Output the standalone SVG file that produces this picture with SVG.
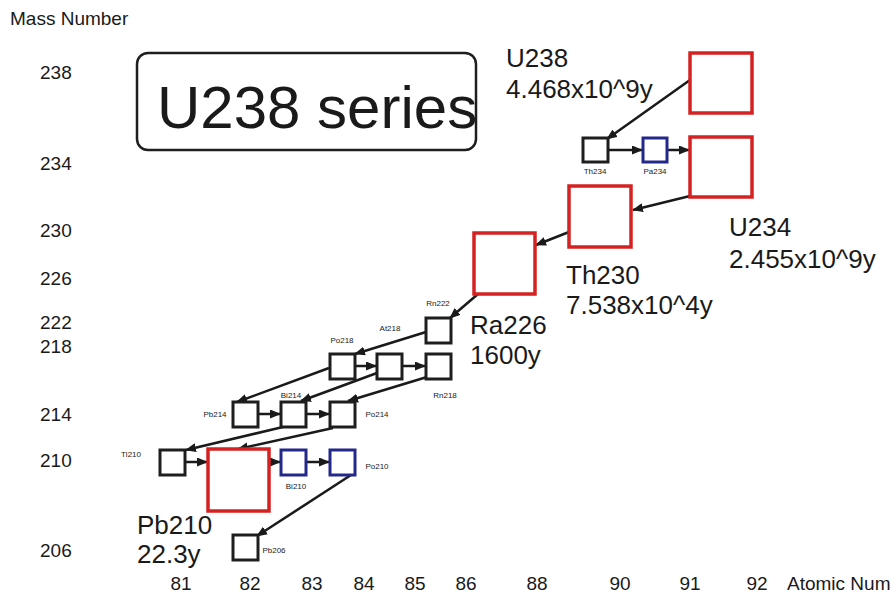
<svg xmlns="http://www.w3.org/2000/svg" width="896" height="597" viewBox="0 0 896 597">
<defs>
<marker id="ah" markerUnits="userSpaceOnUse" markerWidth="11" markerHeight="9" refX="10" refY="4.5" orient="auto">
<path d="M0,0 L11,4.5 L0,9 z" fill="#1a1a1a"/>
</marker>
</defs>
<style>
text{font-family:"Liberation Sans",Arial,sans-serif;fill:#1a1a1a}
.ax{font-size:19px}
.big{font-size:26px}
.sm{font-size:8px}
.red{fill:#fff;stroke:#d42222;stroke-width:3.5}
.blk{fill:#fff;stroke:#1e1e1e;stroke-width:3}
.blu{fill:#fff;stroke:#23298a;stroke-width:3}
.c line{stroke:#1a1a1a;stroke-width:2.5;marker-end:url(#ah)}
</style>
<rect width="896" height="597" fill="#fff"/>
<g id="axes">
<text class="ax" x="10" y="25" font-size="20">Mass Number</text>
<text class="ax" x="40" y="79">238</text>
<text class="ax" x="40" y="170">234</text>
<text class="ax" x="40" y="237">230</text>
<text class="ax" x="40" y="285">226</text>
<text class="ax" x="40" y="329">222</text>
<text class="ax" x="40" y="353">218</text>
<text class="ax" x="40" y="421">214</text>
<text class="ax" x="40" y="467">210</text>
<text class="ax" x="40" y="557">206</text>
<g text-anchor="middle">
<text class="ax" x="181" y="590">81</text>
<text class="ax" x="250" y="590">82</text>
<text class="ax" x="312" y="590">83</text>
<text class="ax" x="364" y="590">84</text>
<text class="ax" x="415" y="590">85</text>
<text class="ax" x="466" y="590">86</text>
<text class="ax" x="537" y="590">88</text>
<text class="ax" x="620" y="590">90</text>
<text class="ax" x="690" y="590">91</text>
<text class="ax" x="757" y="590">92</text>
</g>
<text class="ax" x="787" y="590">Atomic Num</text>
</g>
<g id="title">
<rect x="137" y="53" width="339" height="97" rx="11" fill="none" stroke="#1e1e1e" stroke-width="2.5"/>
<text x="157" y="128" font-size="60">U238 series</text>
</g>
<g class="c" id="connectors">
<line x1="690" y1="80" x2="607" y2="139"/>
<line x1="608" y1="150" x2="642" y2="150"/>
<line x1="667" y1="150" x2="689" y2="150"/>
<line x1="690" y1="196" x2="633" y2="210"/>
<line x1="569" y1="232" x2="536" y2="245"/>
<line x1="478" y1="294" x2="450" y2="318"/>
<line x1="426" y1="332" x2="355" y2="354"/>
<line x1="355" y1="366" x2="376" y2="366"/>
<line x1="402" y1="366" x2="425" y2="366"/>
<line x1="329" y1="368" x2="237" y2="402"/>
<line x1="377" y1="373" x2="301" y2="401"/>
<line x1="427" y1="377" x2="348" y2="401"/>
<line x1="258" y1="414" x2="280" y2="414"/>
<line x1="306" y1="414" x2="329" y2="414"/>
<line x1="283" y1="427" x2="186" y2="450"/>
<line x1="333" y1="428" x2="238" y2="449"/>
<line x1="185" y1="462" x2="207" y2="462"/>
<line x1="269" y1="462" x2="280" y2="462"/>
<line x1="306" y1="462" x2="329" y2="462"/>
<line x1="351" y1="475" x2="257" y2="536"/>
</g>
<g id="U238"><rect class="red" x="690" y="53" width="62" height="60"/>
<text class="big" x="506" y="67">U238</text><text class="big" x="506" y="98">4.468x10^9y</text></g>
<g id="Th234"><rect class="blk" x="583" y="138" width="25" height="24"/><text class="sm" x="595" y="174" text-anchor="middle">Th234</text></g>
<g id="Pa234"><rect class="blu" x="643" y="138" width="24" height="24"/><text class="sm" x="655" y="174" text-anchor="middle">Pa234</text></g>
<g id="U234"><rect class="red" x="690" y="137" width="62" height="60"/>
<text class="big" x="729" y="236">U234</text><text class="big" x="729" y="268">2.455x10^9y</text></g>
<g id="Th230"><rect class="red" x="569" y="186" width="62" height="61"/>
<text class="big" x="566" y="284">Th230</text><text class="big" x="566" y="314">7.538x10^4y</text></g>
<g id="Ra226"><rect class="red" x="474" y="233" width="61" height="61"/>
<text class="big" x="470" y="334">Ra226</text><text class="big" x="470" y="364">1600y</text></g>
<g id="Rn222"><rect class="blk" x="426" y="318" width="25" height="25"/><text class="sm" x="438" y="306" text-anchor="middle">Rn222</text></g>
<g id="Po218"><rect class="blk" x="330" y="354" width="25" height="25"/><text class="sm" x="342" y="343" text-anchor="middle">Po218</text></g>
<g id="At218"><rect class="blk" x="377" y="354" width="25" height="25"/><text class="sm" x="390" y="331" text-anchor="middle">At218</text></g>
<g id="Rn218"><rect class="blk" x="426" y="354" width="25" height="25"/><text class="sm" x="445" y="398" text-anchor="middle">Rn218</text></g>
<g id="Pb214"><rect class="blk" x="233" y="402" width="25" height="25"/><text class="sm" x="215" y="417" text-anchor="middle">Pb214</text></g>
<g id="Bi214"><rect class="blk" x="281" y="402" width="25" height="25"/><text class="sm" x="291" y="398" text-anchor="middle">Bi214</text></g>
<g id="Po214"><rect class="blk" x="330" y="402" width="25" height="25"/><text class="sm" x="377" y="417" text-anchor="middle">Po214</text></g>
<g id="Tl210"><rect class="blk" x="160" y="450" width="25" height="25"/><text class="sm" x="131" y="457" text-anchor="middle">Tl210</text></g>
<g id="Pb210"><rect class="red" x="208" y="449" width="61" height="62"/>
<text class="big" x="137" y="534">Pb210</text><text class="big" x="137" y="563">22.3y</text></g>
<g id="Bi210"><rect class="blu" x="281" y="450" width="25" height="25"/><text class="sm" x="296" y="489" text-anchor="middle">Bi210</text></g>
<g id="Po210"><rect class="blu" x="330" y="450" width="25" height="25"/><text class="sm" x="377" y="469" text-anchor="middle">Po210</text></g>
<g id="Pb206"><rect class="blk" x="233" y="535" width="25" height="25"/><text class="sm" x="274" y="553" text-anchor="middle">Pb206</text></g>
</svg>
